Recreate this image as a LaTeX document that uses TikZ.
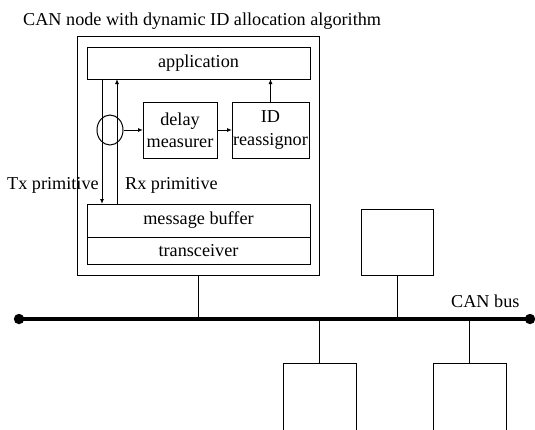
\documentclass[tikz,border=0pt]{standalone}
\usepackage{fontspec}
\setmainfont{Liberation Serif}
\usetikzlibrary{arrows.meta,shapes.geometric}
\tikzset{
  lbl/.style={font=\fontsize{18.2}{21}\selectfont, inner sep=0pt},
  blk/.style={draw, line width=1pt, inner sep=0pt, outer sep=0pt, align=center,
              font=\fontsize{18.2}{22}\selectfont},
  wire/.style={line width=1pt},
  sig/.style={line width=1pt, -{Latex[length=5pt,width=4pt]}},
  busline/.style={line width=3.2pt},
}
\begin{document}
\begin{tikzpicture}[x=1pt,y=-1pt]
  \useasboundingbox (0,0) rectangle (535,429);
  \clip (0,0) rectangle (535,429);

  % title
  \node[lbl, anchor=base west] (title) at (23,25) {CAN node with dynamic ID allocation algorithm};

  % CAN node under study
  \node[blk, minimum width=242, minimum height=239] (node) at (198,155.5) {};
  \node[blk, minimum width=223, minimum height=32] (app) at (198.5,63) {application};
  \node[blk, minimum width=74, minimum height=56] (delay) at (180,130) {delay\\measurer};
  \node[blk, minimum width=77, minimum height=56] (reas) at (270.5,130) {ID\\reassignor};
  \node[blk, minimum width=223, minimum height=33] (buf) at (198.5,220.5) {message buffer};
  \node[blk, minimum width=223, minimum height=27] (trx) at (198.5,250.5) {transceiver};
  \node[draw, ellipse, line width=1pt, inner sep=0pt, minimum width=26, minimum height=30] (tap) at (110,130) {};

  % primitives between application and buffer
  \coordinate (txx) at (102,0);
  \coordinate (rxx) at (117,0);
  \draw[sig] (txx |- app.south) -- (txx |- buf.north);
  \draw[sig] (rxx |- buf.north) -- (rxx |- app.south);
  \draw[sig] (tap.east) -- (delay.west);
  \draw[sig] (delay.east) -- (reas.west);
  \draw[sig] (reas.north) -- (reas.north |- app.south);

  \node[lbl, anchor=base west] (txl) at (7,189) {Tx primitive};
  \node[lbl, anchor=base west] (rxl) at (125,189) {Rx primitive};

  % CAN bus
  \coordinate (busL) at (19,319);
  \coordinate (busR) at (530,319);
  \draw[busline] (busL) -- (busR);
  \fill (busL) circle (5.2);
  \fill (busR) circle (5.2);
  \node[lbl, anchor=base west] (busl) at (451,307) {CAN bus};

  % other nodes on the bus
  \node[blk, minimum width=72, minimum height=66] (n2) at (397,242) {};
  \node[blk, minimum width=73, minimum height=90] (n3) at (319.5,408) {};
  \node[blk, minimum width=73, minimum height=90] (n4) at (469.5,408) {};

  \draw[wire] (node.south) -- (node.south |- busL);
  \draw[wire] (n2.south) -- (n2.south |- busL);
  \draw[wire] (n3.north) -- (n3.north |- busL);
  \draw[wire] (n4.north) -- (n4.north |- busL);
\end{tikzpicture}
\end{document}
